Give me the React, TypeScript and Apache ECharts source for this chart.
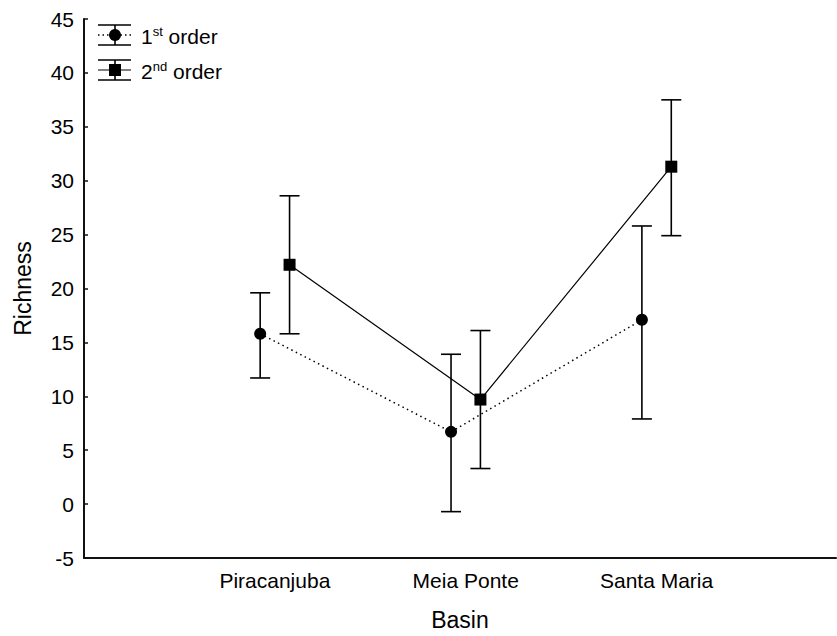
import React, { useEffect, useRef } from "react";
import * as echarts from "echarts";

const categories = ["Piracanjuba", "Meia Ponte", "Santa Maria"];
const firstMean = [15.8, 6.7, 17.1];
const firstLow = [11.7, -0.7, 7.9];
const firstHigh = [19.6, 13.9, 25.8];
const secondMean = [22.2, 9.7, 31.3];
const secondLow = [15.8, 3.3, 24.9];
const secondHigh = [28.6, 16.1, 37.5];
const yTicks = { min: -5, max: 45, interval: 5 };
const xRange = { min: 0, max: 3.94 };

const OFF = 0.077;
const FONT = "'Liberation Sans', Arial, sans-serif";

function errorSeries(name: string, low: number[], high: number[], shift: number) {
  return {
    type: "custom",
    name,
    z: 3,
    renderItem: (_p: any, api: any) => {
      const x = api.value(0);
      const top = api.coord([x, api.value(2)]);
      const bot = api.coord([x, api.value(1)]);
      const hw = 10;
      const st = { stroke: "#000", lineWidth: 1.6 };
      return {
        type: "group",
        children: [
          { type: "line", shape: { x1: top[0], y1: top[1], x2: bot[0], y2: bot[1] }, style: st },
          { type: "line", shape: { x1: top[0] - hw, y1: top[1], x2: top[0] + hw, y2: top[1] }, style: st },
          { type: "line", shape: { x1: bot[0] - hw, y1: bot[1], x2: bot[0] + hw, y2: bot[1] }, style: st },
        ],
      };
    },
    encode: { x: 0, y: [1, 2] },
    data: categories.map((_c, i) => [i + 1 + shift, low[i], high[i]]),
  };
}

export default function App() {
  const ref = useRef<HTMLDivElement>(null);
  useEffect(() => {
    const chart = echarts.init(ref.current!, null, { renderer: "svg" });
    const legendIcon = (cy: number, square: boolean) => {
      const st = { stroke: "#000", lineWidth: 1.6 };
      const els: any[] = [
        { type: "line", shape: { x1: 98, y1: cy - 10, x2: 131, y2: cy - 10 }, style: st },
        { type: "line", shape: { x1: 98, y1: cy + 10, x2: 131, y2: cy + 10 }, style: st },
        { type: "line", shape: { x1: 115, y1: cy - 10, x2: 115, y2: cy + 10 }, style: st },
        {
          type: "line",
          shape: { x1: 98, y1: cy, x2: 131, y2: cy },
          style: square ? { stroke: "#000", lineWidth: 1.2 } : { stroke: "#000", lineWidth: 1.5, lineDash: [1.5, 3] },
        },
      ];
      els.push(
        square
          ? { type: "rect", shape: { x: 109, y: cy - 6, width: 12, height: 12 }, style: { fill: "#000" } }
          : { type: "circle", shape: { cx: 115, cy, r: 6 }, style: { fill: "#000" } }
      );
      return els;
    };
    const legendText = (y: number, main: string, sup: string) => ({
      type: "text",
      x: 141,
      y,
      style: {
        text: main + "{sup|" + sup + "} order",
        fontSize: 21,
        fontFamily: FONT,
        fill: "#000",
        verticalAlign: "middle",
        rich: {
          sup: { fontSize: 13, fontFamily: FONT, fill: "#000", verticalAlign: "top", padding: [0, 0, 10, 0] },
        },
      },
    });
    chart.setOption({
      animation: false,
      backgroundColor: "#fff",
      grid: { left: 84, top: 19, bottom: 78, right: 1 },
      xAxis: {
        type: "value",
        min: xRange.min,
        max: xRange.max,
        interval: 1,
        name: "Basin",
        nameLocation: "middle",
        nameGap: 50,
        nameTextStyle: { fontSize: 23, fontFamily: FONT, color: "#000" },
        axisLine: { onZero: false, lineStyle: { color: "#111", width: 2 } },
        axisTick: { show: false },
        splitLine: { show: false },
        axisLabel: {
          margin: 12,
          fontSize: 21,
          fontFamily: FONT,
          color: "#000",
          showMinLabel: false,
          showMaxLabel: false,
          formatter: (v: number) => (Number.isInteger(v) ? categories[v - 1] ?? "" : ""),
        },
      },
      yAxis: {
        type: "value",
        min: yTicks.min,
        max: yTicks.max,
        interval: yTicks.interval,
        name: "Richness",
        nameLocation: "middle",
        nameGap: 50,
        nameTextStyle: { fontSize: 23, fontFamily: FONT, color: "#000" },
        axisLine: { show: true, lineStyle: { color: "#111", width: 2 } },
        axisTick: { show: true, inside: true, length: 4, lineStyle: { color: "#111", width: 1.5 } },
        splitLine: { show: false },
        axisLabel: { margin: 10, fontSize: 21, fontFamily: FONT, color: "#000" },
      },
      graphic: [
        ...legendIcon(35, false),
        ...legendIcon(70, true),
        legendText(36, "1", "st"),
        legendText(71, "2", "nd"),
      ],
      series: [
        errorSeries("1st err", firstLow, firstHigh, -OFF),
        errorSeries("2nd err", secondLow, secondHigh, OFF),
        {
          type: "line",
          name: "1st order",
          z: 4,
          symbol: "circle",
          symbolSize: 12,
          itemStyle: { color: "#000" },
          lineStyle: { color: "#000", width: 1.5, type: [1.5, 3.5] },
          data: categories.map((_c, i) => [i + 1 - OFF, firstMean[i]]),
        },
        {
          type: "line",
          name: "2nd order",
          z: 4,
          symbol: "rect",
          symbolSize: 12,
          itemStyle: { color: "#000" },
          lineStyle: { color: "#000", width: 1.2 },
          data: categories.map((_c, i) => [i + 1 + OFF, secondMean[i]]),
        },
      ],
    });
    return () => chart.dispose();
  }, []);
  return (
    <div
      ref={ref}
      style={{ position: "fixed", left: 0, top: 0, width: 837, height: 636, background: "#fff" }}
    />
  );
}
